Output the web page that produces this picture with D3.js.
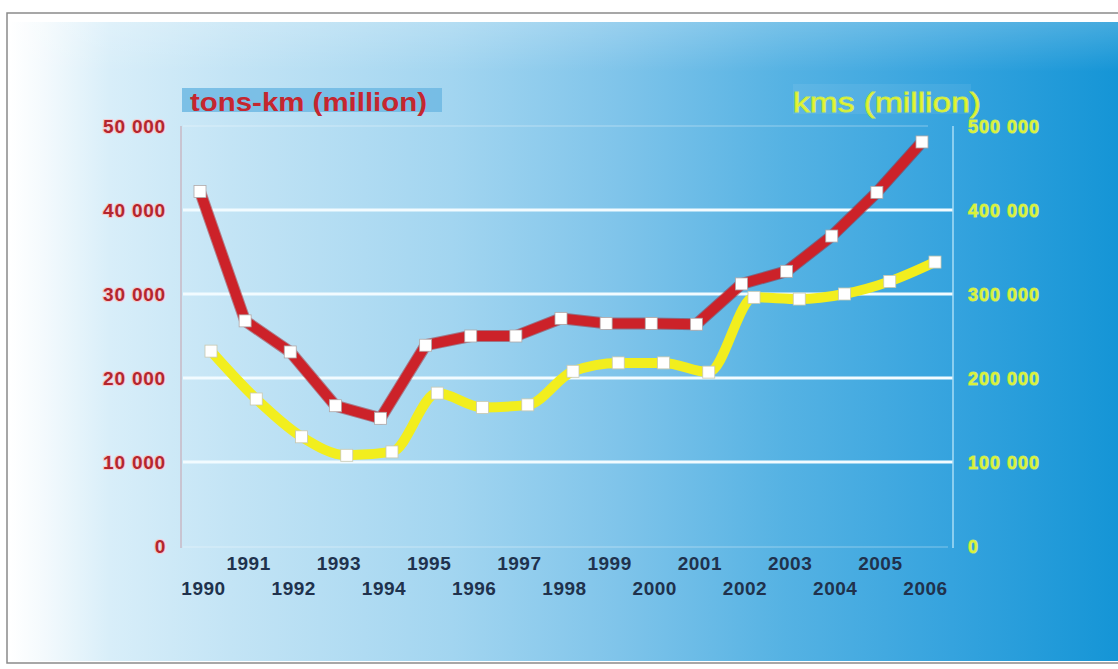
<!DOCTYPE html>
<html>
<head>
<meta charset="utf-8">
<script src="https://cdn.jsdelivr.net/npm/d3@7"></script>
<style>
  html, body { margin: 0; padding: 0; background: #ffffff; }
  svg { display: block; }
  text { font-family: "Liberation Sans", Arial, sans-serif; }
</style>
</head>
<body>
<svg id="chart" width="1118" height="669"></svg>
<script>
// ---- data ----
const years = [1990,1991,1992,1993,1994,1995,1996,1997,1998,1999,2000,2001,2002,2003,2004,2005,2006];
const tonsKm = [42200,26800,23100,16700,15200,23900,25000,25000,27100,26500,26500,26400,31200,32700,36900,42100,48100];
const kms = [232000,175000,130000,108000,112000,182000,165000,168000,208000,218000,218000,207000,296000,294000,300000,315000,338000];
const leftTicks = [0,10000,20000,30000,40000,50000];
const rightTicks = [0,100000,200000,300000,400000,500000];
const leftTitle = "tons-km (million)";
const rightTitle = "kms (million)";

const svg = d3.select("#chart");
const W = 1118, H = 669;

// ---- background ----
const defs = svg.append("defs");
const g1 = defs.append("linearGradient").attr("id","bg").attr("x1","0").attr("x2","1").attr("y1","0").attr("y2","0");
[["0%","#ffffff"],["3%","#f4fafd"],["9%","#d8eef9"],["20%","#c3e4f5"],["40%","#a2d5f0"],["55%","#7fc4ea"],["70%","#55b2e3"],["85%","#35a3de"],["100%","#1595d6"]]
  .forEach(([o,c]) => g1.append("stop").attr("offset",o).attr("stop-color",c));
const g2 = defs.append("linearGradient").attr("id","topfade").attr("x1","0").attr("x2","0").attr("y1","0").attr("y2","1");
g2.append("stop").attr("offset","0%").attr("stop-color","#ffffff").attr("stop-opacity",0.2);
g2.append("stop").attr("offset","100%").attr("stop-color","#ffffff").attr("stop-opacity",0);

svg.append("rect").attr("x",7).attr("y",13).attr("width",W).attr("height",650)
  .attr("fill","#ffffff").attr("stroke","#8a8a8a").attr("stroke-width",1.5);
svg.append("rect").attr("x",10).attr("y",22).attr("width",W-10).attr("height",639).attr("fill","url(#bg)");
svg.append("rect").attr("x",10).attr("y",22).attr("width",W-10).attr("height",50).attr("fill","url(#topfade)");

// ---- scales ----
const x = d3.scalePoint().domain(years).range([200, 922]);
const xY = d3.scalePoint().domain(years).range([211, 935]);
const yL = d3.scaleLinear().domain([0, 50000]).range([546, 126]);
const yR = d3.scaleLinear().domain([0, 500000]).range([546, 126]);
const fmt = d3.formatLocale({decimal: ".", thousands: " ", grouping: [3], currency: ["",""]}).format(",d");

const plotL = 181, plotR = 953;

// faint plot frame (top and bottom)
svg.append("line").attr("x1",plotL+2).attr("x2",928).attr("y1",yL(50000)).attr("y2",yL(50000))
  .attr("stroke","#ffffff").attr("stroke-opacity",0.25).attr("stroke-width",1.5);
svg.append("line").attr("x1",plotL+2).attr("x2",948).attr("y1",yL(0)+1).attr("y2",yL(0)+1)
  .attr("stroke","#ffffff").attr("stroke-opacity",0.25).attr("stroke-width",1.5);

// gridlines
svg.append("g").selectAll("line").data(leftTicks.filter(d => d > 0 && d < 50000)).join("line")
  .attr("x1", plotL+2).attr("x2", plotR).attr("y1", d => yL(d)).attr("y2", d => yL(d))
  .attr("stroke", "#f2fbff").attr("stroke-width", 3);

// axis lines
svg.append("line").attr("x1",plotL).attr("x2",plotL).attr("y1",yL(50000)).attr("y2",yL(0)+2)
  .attr("stroke","#c9b9c4").attr("stroke-width",1.5);
svg.append("line").attr("x1",plotR).attr("x2",plotR).attr("y1",yL(50000)).attr("y2",yL(0)+2)
  .attr("stroke","#a9dcf5").attr("stroke-width",1.5);

// left axis labels
const axL = svg.append("g").attr("transform", `translate(166,0)`)
  .call(d3.axisLeft(yL).tickValues(leftTicks).tickSize(0).tickPadding(0).tickFormat(fmt));
axL.select(".domain").remove();
axL.selectAll("text")
  .attr("x", 0).attr("text-anchor","end").attr("dy","0.36em")
  .attr("font-size", 19).attr("font-weight","bold")
  .attr("fill","#b3262e").attr("stroke","#f6c9cf").attr("stroke-width",2.2)
  .attr("paint-order","stroke").attr("stroke-linejoin","round")
  .style("letter-spacing","0.8px")
  .style("font-family", '"Liberation Sans", Arial, sans-serif');

// right axis labels
const axR = svg.append("g").attr("transform", `translate(968,0)`)
  .call(d3.axisRight(yR).tickValues(rightTicks).tickSize(0).tickPadding(0).tickFormat(fmt));
axR.select(".domain").remove();
axR.selectAll("text")
  .attr("x", 0).attr("text-anchor","start").attr("dy","0.36em")
  .attr("font-size", 18).attr("font-weight","bold")
  .attr("fill","#d9f23a").attr("stroke","#b9e08a").attr("stroke-width",1)
  .attr("paint-order","stroke")
  .style("letter-spacing","1px")
  .style("font-family", '"Liberation Sans", Arial, sans-serif');

// x axis labels (two staggered rows)
const axX = svg.append("g").attr("transform", `translate(3,0)`)
  .call(d3.axisBottom(x).tickSize(0).tickPadding(0).tickFormat(d => String(d)));
axX.select(".domain").remove();
axX.selectAll(".tick text")
  .attr("y", (d,i) => i % 2 === 0 ? 588 : 563).attr("dy","0.36em")
  .attr("font-size", 19).attr("font-weight","bold")
  .attr("fill","#20324d")
  .style("letter-spacing","0.5px")
  .style("font-family", '"Liberation Sans", Arial, sans-serif');

// titles
svg.append("rect").attr("x",182).attr("y",88).attr("width",260).attr("height",24).attr("fill","#6fb8e3").attr("opacity",0.85);
svg.append("text").attr("x",190).attr("y",111).text(leftTitle)
  .attr("font-size",26).attr("font-weight","bold").attr("fill","#c5262f")
  .attr("textLength",237).attr("lengthAdjust","spacingAndGlyphs");
svg.append("rect").attr("x",793).attr("y",84).attr("width",178).attr("height",30).attr("fill","#ffffff").attr("opacity",0.07);
svg.append("text").attr("x",793).attr("y",112).text(rightTitle)
  .attr("font-size",27).attr("fill","#e6f52a").attr("stroke","#c8ea50").attr("stroke-width",0.8)
  .attr("textLength",188).attr("lengthAdjust","spacingAndGlyphs");

// ---- series ----
const lineY = d3.line().x((d,i) => xY(years[i])).y(d => yR(d)).curve(d3.curveMonotoneX);
const lineR = d3.line().x((d,i) => x(years[i])).y(d => yL(d));

svg.append("path").datum(tonsKm).attr("d", lineR)
  .attr("fill","none").attr("stroke","#9e1c22").attr("stroke-width",12).attr("stroke-linejoin","round").attr("opacity",0.5);
svg.append("path").datum(tonsKm).attr("d", lineR)
  .attr("fill","none").attr("stroke","#cc2229").attr("stroke-width",10).attr("stroke-linejoin","round");

svg.append("path").datum(kms).attr("d", lineY)
  .attr("fill","none").attr("stroke","#f2ee1e").attr("stroke-width",10).attr("stroke-linejoin","round");

const ms = 12;
svg.append("g").selectAll("rect").data(tonsKm).join("rect")
  .attr("x",(d,i) => x(years[i]) - ms/2).attr("y", d => yL(d) - ms/2)
  .attr("width",ms).attr("height",ms).attr("fill","#ffffff").attr("stroke","#b0a8a8").attr("stroke-width",0.8);
svg.append("g").selectAll("rect").data(kms).join("rect")
  .attr("x",(d,i) => xY(years[i]) - ms/2).attr("y", d => yR(d) - ms/2)
  .attr("width",ms).attr("height",ms).attr("fill","#ffffff").attr("stroke","#c8c8b0").attr("stroke-width",0.8);
</script>
</body>
</html>
